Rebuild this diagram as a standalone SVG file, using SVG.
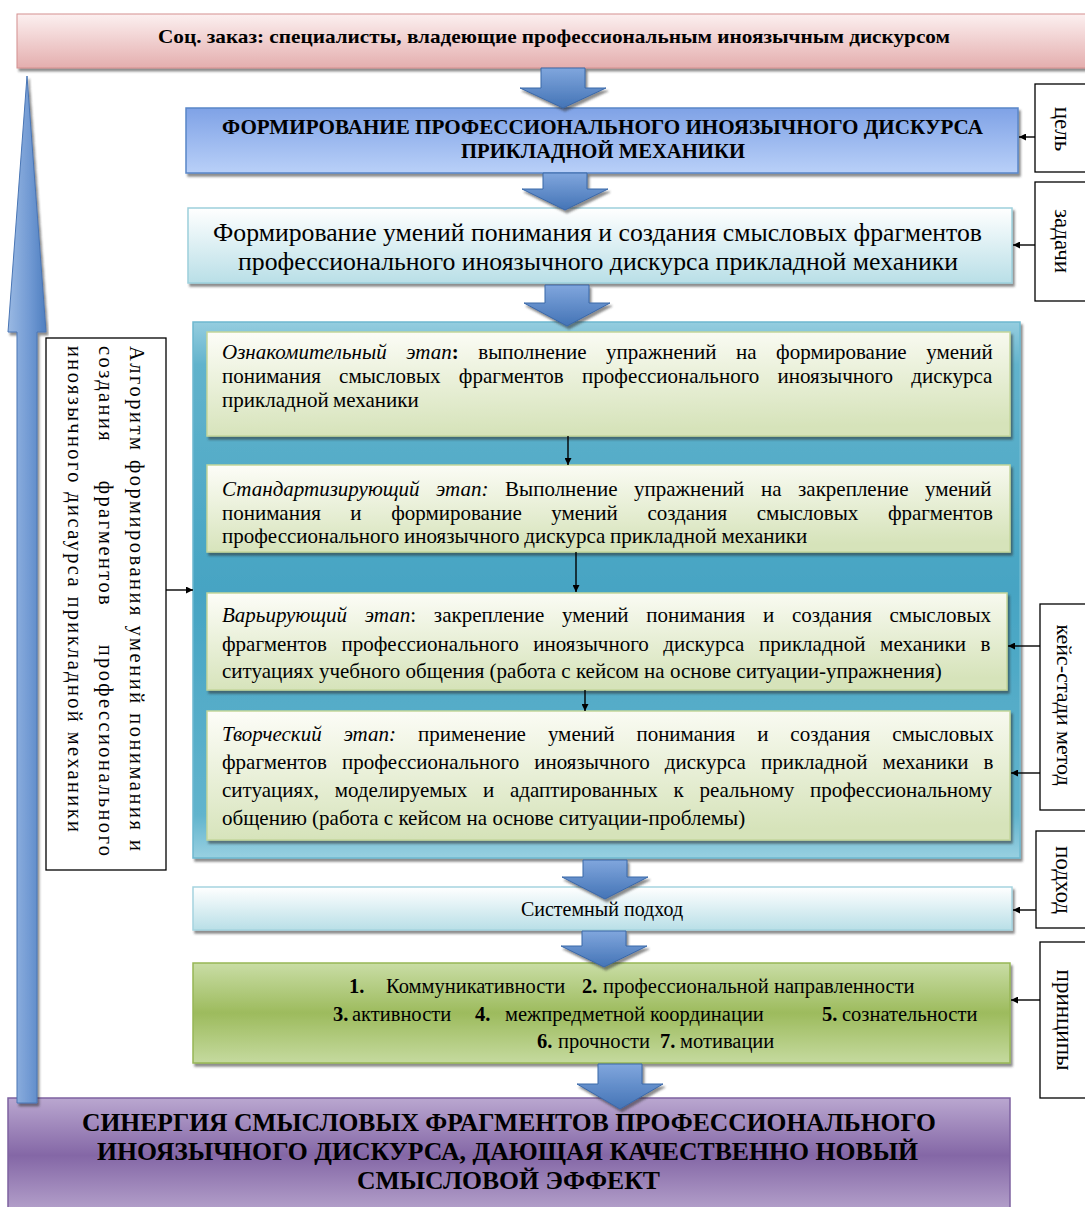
<svg xmlns="http://www.w3.org/2000/svg" width="1085" height="1207" viewBox="0 0 1085 1207">
  <defs>
    <style>
      .t { font-family: "Liberation Serif", "Times New Roman", serif; fill: #000; }
      .b { font-weight: bold; }
      .i { font-style: italic; }
      .lbl { fill: #fff; stroke: #000; stroke-width: 1.3; }
      .wire { fill: none; stroke: #000; stroke-width: 1.4; marker-end: url(#head); }
      .block { fill: url(#gArrow); stroke: #3a68a8; stroke-width: 1; filter: url(#sh); }
      .stage { fill: url(#gStage); stroke: #c3d69b; stroke-width: 1.5; filter: url(#sh); }
    </style>
    <filter id="sh" x="-5%" y="-5%" width="112%" height="130%">
      <feDropShadow dx="2" dy="3" stdDeviation="1.2" flood-color="#333" flood-opacity="0.55"/>
    </filter>
    <marker id="head" viewBox="0 0 10 10" refX="10" refY="5" markerWidth="7" markerHeight="7" markerUnits="userSpaceOnUse" orient="auto">
      <path d="M0,0 L10,5 L0,10 Z" fill="#000"/>
    </marker>
    <linearGradient id="gPink" x1="0" y1="0" x2="0" y2="1">
      <stop offset="0" stop-color="#fcf0f0"/>
      <stop offset="1" stop-color="#e4aeae"/>
    </linearGradient>
    <linearGradient id="gBlue" x1="0" y1="0" x2="0" y2="1">
      <stop offset="0" stop-color="#7fa2e6"/>
      <stop offset="1" stop-color="#b9d0f8"/>
    </linearGradient>
    <linearGradient id="gCyan" x1="0" y1="0" x2="0" y2="1">
      <stop offset="0" stop-color="#ffffff"/>
      <stop offset="1" stop-color="#b9dfe7"/>
    </linearGradient>
    <linearGradient id="gTeal" x1="0" y1="0" x2="0" y2="1">
      <stop offset="0" stop-color="#95cddf"/>
      <stop offset="0.08" stop-color="#62b3cc"/>
      <stop offset="0.5" stop-color="#46a4c3"/>
      <stop offset="0.92" stop-color="#62b4cd"/>
      <stop offset="1" stop-color="#98d0e1"/>
    </linearGradient>
    <linearGradient id="gStage" x1="0" y1="0" x2="0.15" y2="1">
      <stop offset="0" stop-color="#fdfdf8"/>
      <stop offset="1" stop-color="#d6e3ba"/>
    </linearGradient>
    <linearGradient id="gGreen" x1="0" y1="0" x2="0" y2="1">
      <stop offset="0" stop-color="#c9dda5"/>
      <stop offset="0.5" stop-color="#9dbb5d"/>
      <stop offset="1" stop-color="#c5da9f"/>
    </linearGradient>
    <linearGradient id="gPurple" x1="0" y1="0" x2="0" y2="1">
      <stop offset="0" stop-color="#baa7d0"/>
      <stop offset="0.5" stop-color="#8467a6"/>
      <stop offset="1" stop-color="#b6a3cc"/>
    </linearGradient>
    <linearGradient id="gArrow" x1="0" y1="0" x2="0" y2="1">
      <stop offset="0" stop-color="#80a6dd"/>
      <stop offset="1" stop-color="#4474b6"/>
    </linearGradient>
    <linearGradient id="gSpine" x1="0" y1="0" x2="1" y2="0">
      <stop offset="0" stop-color="#9ab9e3"/>
      <stop offset="0.6" stop-color="#6f98d2"/>
      <stop offset="1" stop-color="#4f7fc0"/>
    </linearGradient>
  </defs>

  <rect width="1085" height="1207" fill="#fff"/>

  <!-- social order banner -->
  <g id="order">
    <rect x="17" y="14" width="1080" height="54" fill="url(#gPink)" stroke="#d4908f" stroke-width="1" filter="url(#sh)"/>
    <text class="t b" x="158" y="43" font-size="19" textLength="792" lengthAdjust="spacingAndGlyphs">Соц. заказ: специалисты, владеющие профессиональным иноязычным дискурсом</text>
  </g>

  <!-- goal -->
  <g id="goal">
    <rect x="186" y="108" width="832" height="65" fill="url(#gBlue)" stroke="#5a86c8" stroke-width="1.5" filter="url(#sh)"/>
    <text class="t b" x="222" y="134" font-size="20" textLength="761" lengthAdjust="spacingAndGlyphs">ФОРМИРОВАНИЕ  ПРОФЕССИОНАЛЬНОГО  ИНОЯЗЫЧНОГО  ДИСКУРСА</text>
    <text class="t b" x="461" y="158" font-size="20" textLength="284" lengthAdjust="spacingAndGlyphs">ПРИКЛАДНОЙ МЕХАНИКИ</text>
  </g>

  <!-- tasks -->
  <g id="tasks">
    <rect x="188" y="208" width="824" height="75" fill="url(#gCyan)" stroke="#9dd0dc" stroke-width="1.5" filter="url(#sh)"/>
    <text class="t" x="213" y="241" font-size="25" textLength="769" lengthAdjust="spacingAndGlyphs">Формирование умений понимания и создания смысловых фрагментов</text>
    <text class="t" x="238" y="270" font-size="25" textLength="720" lengthAdjust="spacingAndGlyphs">профессионального иноязычного дискурса прикладной механики</text>
  </g>

  <!-- algorithm stages -->
  <g id="stages">
    <rect x="193" y="322" width="827" height="536" fill="url(#gTeal)" stroke="#6db8cf" stroke-width="1.5" filter="url(#sh)"/>

    <g id="stage-intro">
      <rect class="stage" x="207" y="332" width="803" height="104"/>
      <text class="t" x="222" y="359" font-size="21" word-spacing="14.3"><tspan class="i">Ознакомительный этап</tspan><tspan class="b">:</tspan> выполнение упражнений на формирование умений</text>
      <text class="t" x="222" y="383" font-size="21" word-spacing="13">понимания смысловых фрагментов профессионального иноязычного дискурса</text>
      <text class="t" x="222" y="407" font-size="21" word-spacing="-1">прикладной механики</text>
    </g>

    <g id="stage-standard">
      <rect class="stage" x="207" y="465" width="803" height="87"/>
      <text class="t" x="222" y="496" font-size="21" word-spacing="11.3"><tspan class="i">Стандартизирующий этап:</tspan> Выполнение упражнений на закрепление умений</text>
      <text class="t" x="222" y="520" font-size="21" word-spacing="24.3">понимания и формирование умений создания смысловых фрагментов</text>
      <text class="t" x="222" y="543" font-size="21" word-spacing="-0.5">профессионального иноязычного дискурса прикладной механики</text>
    </g>

    <g id="stage-vary">
      <rect class="stage" x="207" y="593" width="800" height="97"/>
      <text class="t" x="222" y="622" font-size="21" word-spacing="12.5"><tspan class="i">Варьирующий этап</tspan>: закрепление умений понимания и создания смысловых</text>
      <text class="t" x="222" y="651" font-size="21" word-spacing="9.3">фрагментов профессионального иноязычного дискурса прикладной механики в</text>
      <text class="t" x="222" y="678" font-size="21">ситуациях учебного общения (работа с кейсом на основе ситуации-упражнения)</text>
    </g>

    <g id="stage-create">
      <rect class="stage" x="207" y="711" width="803" height="129" stroke="#f2c28f"/>
      <text class="t" x="222" y="741" font-size="21" word-spacing="16.7"><tspan class="i">Творческий этап:</tspan> применение умений понимания и создания смысловых</text>
      <text class="t" x="222" y="769" font-size="21" word-spacing="9.8">фрагментов профессионального иноязычного дискурса прикладной механики в</text>
      <text class="t" x="222" y="797" font-size="21" word-spacing="10.5">ситуациях, моделируемых и адаптированных к реальному профессиональному</text>
      <text class="t" x="222" y="825" font-size="21">общению (работа с кейсом на основе ситуации-проблемы)</text>
    </g>
  </g>

  <!-- algorithm caption -->
  <g id="algorithm">
    <rect class="lbl" x="46" y="338" width="120" height="532"/>
    <text class="t" transform="translate(130,346) rotate(90)" font-size="20.5" textLength="505" lengthAdjust="spacing">Алгоритм формирования умений понимания и</text>
    <text class="t" transform="translate(99,346) rotate(90)" font-size="20.5" textLength="510" lengthAdjust="spacing" word-spacing="30">создания фрагментов профессионального</text>
    <text class="t" transform="translate(68,346) rotate(90)" font-size="20.5" textLength="486" lengthAdjust="spacing">иноязычного дисаурса прикладной механики</text>
  </g>

  <!-- approach -->
  <g id="approach">
    <rect x="193" y="887" width="819" height="43" fill="url(#gCyan)" stroke="#a5d4df" stroke-width="1.5" filter="url(#sh)"/>
    <text class="t" x="602" y="916" font-size="20" text-anchor="middle">Системный подход</text>
  </g>

  <!-- principles -->
  <g id="principles">
    <rect x="193" y="963" width="817" height="100" fill="url(#gGreen)" stroke="#97b655" stroke-width="1.5" filter="url(#sh)"/>
    <text class="t" y="993" font-size="20.5"><tspan class="b" x="349">1.</tspan><tspan x="386">Коммуникативности</tspan><tspan class="b" x="582">2.</tspan><tspan x="603">профессиональной направленности</tspan></text>
    <text class="t" y="1021" font-size="20.5"><tspan class="b" x="333">3.</tspan><tspan x="352">активности</tspan><tspan class="b" x="475">4.</tspan><tspan x="505">межпредметной координации</tspan><tspan class="b" x="822">5.</tspan><tspan x="842">сознательности</tspan></text>
    <text class="t" y="1048" font-size="20.5"><tspan class="b" x="537">6.</tspan><tspan x="558">прочности</tspan><tspan class="b" x="660">7.</tspan><tspan x="680">мотивации</tspan></text>
  </g>

  <!-- result -->
  <g id="result">
    <rect x="8" y="1098" width="1002" height="115" fill="url(#gPurple)" stroke="#7e62a0" stroke-width="1.5"/>
    <text class="t b" x="82" y="1131" font-size="25" textLength="854" lengthAdjust="spacingAndGlyphs">СИНЕРГИЯ СМЫСЛОВЫХ ФРАГМЕНТОВ ПРОФЕССИОНАЛЬНОГО</text>
    <text class="t b" x="97" y="1160" font-size="25" textLength="821" lengthAdjust="spacingAndGlyphs">ИНОЯЗЫЧНОГО ДИСКУРСА, ДАЮЩАЯ КАЧЕСТВЕННО НОВЫЙ</text>
    <text class="t b" x="357" y="1189" font-size="25" textLength="303" lengthAdjust="spacingAndGlyphs">СМЫСЛОВОЙ ЭФФЕКТ</text>
  </g>

  <!-- side labels -->
  <g id="label-goal">
    <rect class="lbl" x="1035" y="84" width="60" height="88"/>
    <text class="t" transform="translate(1055,129) rotate(90)" font-size="23" text-anchor="middle">цель</text>
  </g>
  <g id="label-tasks">
    <rect class="lbl" x="1035" y="182" width="60" height="119"/>
    <text class="t" transform="translate(1055,241) rotate(90)" font-size="23" text-anchor="middle">задачи</text>
  </g>
  <g id="label-method">
    <rect class="lbl" x="1040" y="604" width="60" height="206"/>
    <text class="t" transform="translate(1057,705) rotate(90)" font-size="22" text-anchor="middle">кейс-стади метод</text>
  </g>
  <g id="label-approach">
    <rect class="lbl" x="1036" y="831" width="60" height="97"/>
    <text class="t" transform="translate(1056,880) rotate(90)" font-size="23" text-anchor="middle">подход</text>
  </g>
  <g id="label-principles">
    <rect class="lbl" x="1040" y="942" width="60" height="156"/>
    <text class="t" transform="translate(1057,1020) rotate(90)" font-size="23" text-anchor="middle">принципы</text>
  </g>

  <!-- connectors -->
  <g id="connectors">
    <path d="M27,76 L46,332 L37,332 L37,1103 L17,1103 L17,332 L8,332 Z" fill="url(#gSpine)" stroke="#4a76b5" stroke-width="1" filter="url(#sh)"/>
    <path class="block" d="M541,68 H585 V88 H606 L563,108 L520,88 H541 Z"/>
    <path class="block" d="M543,173 H587 V189 H608 L565,210 L522,189 H543 Z"/>
    <path class="block" d="M545,285 H589 V303 H610 L567,326 L524,303 H545 Z"/>
    <path class="block" d="M583,860 H627 V877 H648 L605,899 L562,877 H583 Z"/>
    <path class="block" d="M582,931 H626 V946 H647 L604,967 L561,946 H582 Z"/>
    <path class="block" d="M598,1064 H642 V1084 H663 L620,1109 L577,1084 H598 Z"/>

    <line class="wire" x1="568" y1="436" x2="568" y2="465"/>
    <line class="wire" x1="576" y1="552" x2="576" y2="592"/>
    <line class="wire" x1="585" y1="690" x2="585" y2="711"/>
    <line class="wire" x1="166" y1="590" x2="193" y2="590"/>
    <line class="wire" x1="1035" y1="137" x2="1019" y2="137"/>
    <line class="wire" x1="1035" y1="245" x2="1013" y2="245"/>
    <line class="wire" x1="1040" y1="646" x2="1008" y2="646"/>
    <line class="wire" x1="1040" y1="773" x2="1011" y2="773"/>
    <line class="wire" x1="1036" y1="910" x2="1013" y2="910"/>
    <line class="wire" x1="1040" y1="1000" x2="1011" y2="1000"/>
  </g>
</svg>
